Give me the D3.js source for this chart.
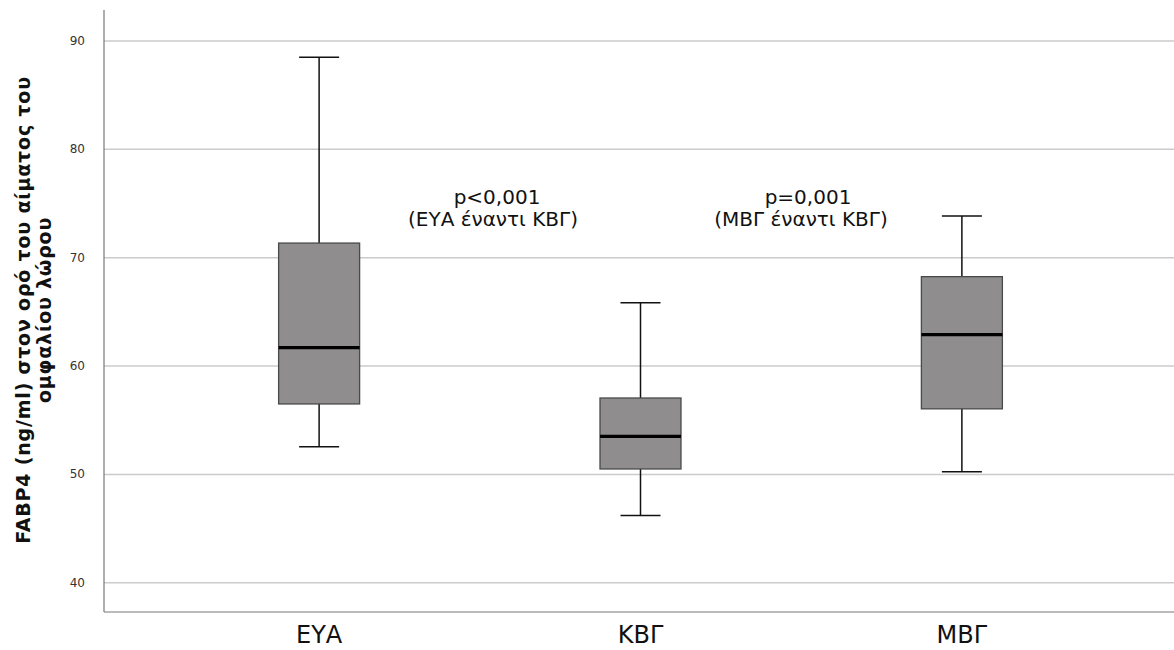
<!DOCTYPE html>
<html lang="el">
<head>
<meta charset="UTF-8" />
<script src="https://d3js.org/d3.v7.min.js"></script>
<style>
  body { margin: 0; background: #fff; }
  svg text { font-family: "DejaVu Sans", "Open Sans", sans-serif; }
</style>
</head>
<body>
<svg id="chart" width="1174" height="650"></svg>
<script>
// groups and box summaries
var groups = ["ΕΥΑ", "ΚΒΓ", "ΜΒΓ"];
var whiskerLow  = [52.55, 46.2, 50.25];
var q1          = [56.5, 50.5, 56.05];
var median      = [61.7, 53.5, 62.9];
var q3          = [71.35, 57.05, 68.25];
var whiskerHigh = [88.5, 65.85, 73.85];
var yTicks = [40, 50, 60, 70, 80, 90];
var notes = [
  ["p<0,001", "(ΕΥΑ έναντι ΚΒΓ)"],
  ["p=0,001", "(ΜΒΓ έναντι ΚΒΓ)"]
];
var noteAt = [[497, 493], [808, 801]];   // x for each line
var noteValue = 72.95;   // y value of second line baseline

var svg = d3.select("#chart");
var mLeft = 104, mRight = 1174, mTop = 10, mBottom = 612;

var y = d3.scaleLinear().domain([37.3, 92.86]).range([mBottom, mTop]);
var x = d3.scalePoint().domain(groups).range([mLeft + 3, mRight]).padding(0.66);

// gridlines
svg.append("g").selectAll("line")
  .data(yTicks).enter().append("line")
  .attr("x1", mLeft).attr("x2", mRight)
  .attr("y1", function(d){ return y(d) }).attr("y2", function(d){ return y(d) })
  .attr("stroke", "#cbcbcb").attr("stroke-width", 1.5);

// y tick labels
svg.append("g").selectAll("text")
  .data(yTicks).enter().append("text")
  .attr("x", mLeft - 19).attr("y", function(d){ return y(d) + 4 })
  .attr("text-anchor", "end")
  .attr("font-size", 12).attr("fill", "#333")
  .text(function(d){ return d });

// axis frame
svg.append("line").attr("x1", mLeft).attr("x2", mLeft).attr("y1", mTop).attr("y2", mBottom)
  .attr("stroke", "#777").attr("stroke-width", 1.2);
svg.append("line").attr("x1", mLeft).attr("x2", mRight).attr("y1", mBottom).attr("y2", mBottom)
  .attr("stroke", "#777").attr("stroke-width", 1.2);

// x labels
svg.append("g").selectAll("text")
  .data(groups).enter().append("text")
  .attr("x", function(d){ return x(d) }).attr("y", 643)
  .attr("text-anchor", "middle")
  .attr("font-size", 24).attr("fill", "#111")
  .attr("font-family", "'Open Sans', sans-serif")
  .text(function(d){ return d });

// boxes
var boxW = 81, capW = 40;
var box = svg.append("g").selectAll("g")
  .data(groups).enter().append("g");

box.append("line")
  .attr("x1", function(d){ return x(d) }).attr("x2", function(d){ return x(d) })
  .attr("y1", function(d, i){ return y(whiskerHigh[i]) })
  .attr("y2", function(d, i){ return y(whiskerLow[i]) })
  .attr("stroke", "#111").attr("stroke-width", 1.5);

box.append("rect")
  .attr("x", function(d){ return x(d) - boxW / 2 })
  .attr("width", boxW)
  .attr("y", function(d, i){ return y(q3[i]) })
  .attr("height", function(d, i){ return y(q1[i]) - y(q3[i]) })
  .attr("fill", "#8f8d8d").attr("stroke", "#4a4a4a").attr("stroke-width", 1.3);

box.append("line")
  .attr("x1", function(d){ return x(d) - boxW / 2 }).attr("x2", function(d){ return x(d) + boxW / 2 })
  .attr("y1", function(d, i){ return y(median[i]) }).attr("y2", function(d, i){ return y(median[i]) })
  .attr("stroke", "#000").attr("stroke-width", 3.2);

[whiskerHigh, whiskerLow].forEach(function(arr){
  box.append("line")
    .attr("x1", function(d){ return x(d) - capW / 2 }).attr("x2", function(d){ return x(d) + capW / 2 })
    .attr("y1", function(d, i){ return y(arr[i]) }).attr("y2", function(d, i){ return y(arr[i]) })
    .attr("stroke", "#111").attr("stroke-width", 1.5);
});

// p-value notes
notes.forEach(function(n, i){
  svg.append("text").attr("x", noteAt[i][0]).attr("y", y(noteValue) - 22)
    .attr("text-anchor", "middle").attr("font-size", 20).attr("fill", "#111").text(n[0]);
  svg.append("text").attr("x", noteAt[i][1]).attr("y", y(noteValue))
    .attr("text-anchor", "middle").attr("font-size", 20).attr("fill", "#111").text(n[1]);
});

// y title
var yt = svg.append("text")
  .attr("transform", "translate(30,310) rotate(-90)")
  .attr("text-anchor", "middle").attr("font-size", 19).attr("font-weight", "bold")
  .attr("letter-spacing", 0.8).attr("fill", "#111");
yt.append("tspan").attr("x", 0).attr("dy", 0).text("FABP4 (ng/ml) στον ορό του αίματος του");
yt.append("tspan").attr("x", 0).attr("dy", 21).text("ομφαλίου λώρου");
</script>
</body>
</html>
